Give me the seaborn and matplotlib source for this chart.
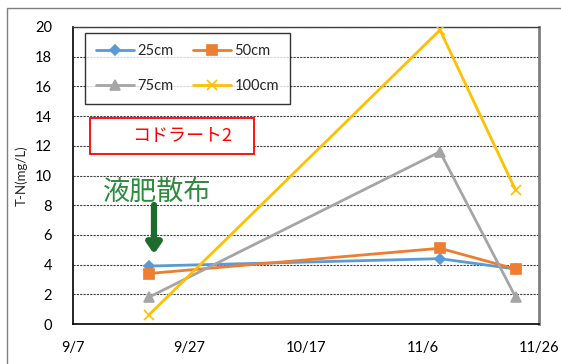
import matplotlib
matplotlib.use("Agg")
import matplotlib.pyplot as plt
import matplotlib.dates as mdates
from matplotlib.patches import Rectangle
import pandas as pd
import seaborn as sns

# Sampling dates and T-N concentrations by depth
dates = ["2015-09-20", "2015-11-09", "2015-11-22"]
depths = ["25cm", "50cm", "75cm", "100cm"]
tn_25 = [3.9, 4.4, 3.7]
tn_50 = [3.4, 5.1, 3.7]
tn_75 = [1.8, 11.6, 1.8]
tn_100 = [0.6, 19.8, 9.0]

tick_dates = ["2015-09-07", "2015-09-27", "2015-10-17", "2015-11-06", "2015-11-26"]
tick_labels = ["9/7", "9/27", "10/17", "11/6", "11/26"]

colors = ["#5B9BD5", "#ED7D31", "#A5A5A5", "#FFC000"]
markers = ["D", "s", "^", "x"]
msizes = [5, 7, 7, 7]

sns.set_theme(style="white")
plt.rcParams["font.family"] = ["Lato", "Noto Sans CJK JP", "DejaVu Sans"]

fig = plt.figure(figsize=(5.61, 3.64), dpi=100)
ax = fig.add_axes([73 / 561, 1 - 324 / 364, (539 - 73) / 561, (324 - 27) / 364])

# Outer chart border
fig.patches.append(Rectangle((7 / 561, -0.1), 1.2, 1.1 - 8 / 364,
                             transform=fig.transFigure, fill=False,
                             edgecolor="#7f7f7f", linewidth=1.0))

series = [tn_25, tn_50, tn_75, tn_100]
for name, vals, c, m, ms in zip(depths, series, colors, markers, msizes):
    df = pd.DataFrame({"date": pd.to_datetime(dates), "T-N": vals})
    sns.lineplot(data=df, x="date", y="T-N", ax=ax, color=c, marker=m,
                 markersize=ms, markeredgecolor=c, markerfacecolor=c,
                 markeredgewidth=1.2, linewidth=2.0, label=name, zorder=3)

# Axes limits and ticks
td = pd.to_datetime(tick_dates)
ax.set_xlim(mdates.date2num(td[0]), mdates.date2num(td[-1]))
ax.set_xticks(mdates.date2num(td))
ax.set_xticklabels(tick_labels)
ax.set_ylim(0, 20)
ax.set_yticks(range(0, 21, 2))
ax.tick_params(axis="both", labelsize=10.5, colors="black", length=4,
               width=1.0, direction="out")
ax.tick_params(axis="x", pad=8)
ax.tick_params(axis="y", pad=11)
ax.set_xlabel("")
ax.set_ylabel("T-N(mg/L)", fontsize=9.5)
ax.yaxis.set_label_coords(-0.098, 0.5)

ax.grid(axis="y", color="#404040", linestyle=(0, (2, 1)), linewidth=0.8)
ax.set_axisbelow(True)

for s in ["left", "bottom"]:
    ax.spines[s].set_color("black")
    ax.spines[s].set_linewidth(1.2)
ax.spines["top"].set_color("#404040")
ax.spines["top"].set_linewidth(1.0)
ax.spines["right"].set_color("#7f7f7f")
ax.spines["right"].set_linewidth(2.0)

# Legend laid out row by row: 25cm, 50cm / 75cm, 100cm
handles, labels = ax.get_legend_handles_labels()
order = [0, 2, 1, 3]
leg = ax.legend([handles[i] for i in order], [labels[i] for i in order],
                loc="upper left", bbox_to_anchor=(0.026, 0.98), ncol=2,
                fontsize=10.5, frameon=True, fancybox=False, handlelength=2.6,
                handletextpad=0.25, columnspacing=1.3, labelspacing=1.45,
                borderpad=0.75, borderaxespad=0)
leg.get_frame().set_edgecolor("black")
leg.get_frame().set_linewidth(1.0)

# Plot label box
ax.add_patch(Rectangle((90 / 561, 1 - 154 / 364), (254 - 90) / 561, 36 / 364,
                       transform=fig.transFigure, fill=True, facecolor="white",
                       edgecolor="#FF0000", linewidth=1.3, zorder=4))
fig.text(182 / 561, 1 - 136 / 364, "コドラート2", color="#FF0000", fontsize=13,
         ha="center", va="center", family=["Noto Sans CJK JP", "DejaVu Sans"], zorder=5)

# Fertilizer application annotation
fig.text(157 / 561, 1 - 192 / 364, "液肥散布", color="#2E8B3E", fontsize=19.5,
         ha="center", va="center", family=["Noto Sans CJK JP", "DejaVu Sans"])
ax.annotate("", xy=(154 / 561, 1 - 254 / 364), xytext=(154 / 561, 1 - 205 / 364),
            xycoords="figure fraction", textcoords="figure fraction",
            arrowprops=dict(arrowstyle="-|>,head_width=0.35,head_length=0.5",
                            color="#1E6B2E", linewidth=4.5, shrinkA=0, shrinkB=0))

fig.savefig("out.png", dpi=100)
